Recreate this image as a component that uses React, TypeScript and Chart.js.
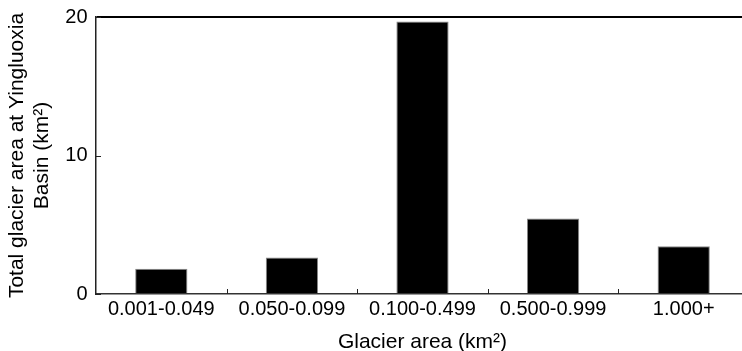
import React, { useEffect, useRef } from "react";
import { Chart, registerables } from "chart.js";

Chart.register(...registerables);

const categories = ["0.001-0.049", "0.050-0.099", "0.100-0.499", "0.500-0.999", "1.000+"];
const totalArea = [1.83, 2.63, 19.67, 5.45, 3.45];
const yTicks = [0, 10, 20];
const yTitle = ["Total glacier area at Yingluoxia", "Basin (km²)"];
const xTitle = "Glacier area (km²)";

const FONT = "'Liberation Sans', Arial, Helvetica, sans-serif";

const innerTicks = {
  id: "innerTicks",
  afterDraw(chart: any) {
    const { ctx, chartArea, scales } = chart;
    const x = scales.x;
    const y = scales.y;
    ctx.save();
    ctx.strokeStyle = "#222";
    ctx.lineWidth = 1;
    y.ticks.forEach((t: any) => {
      const py = Math.round(y.getPixelForValue(t.value)) + 0.5;
      ctx.beginPath();
      ctx.moveTo(chartArea.left, py);
      ctx.lineTo(chartArea.left + 5, py);
      ctx.stroke();
    });
    for (let i = 0; i < categories.length - 1; i++) {
      const px = Math.round((x.getPixelForValue(i) + x.getPixelForValue(i + 1)) / 2) + 0.5;
      ctx.beginPath();
      ctx.moveTo(px, chartArea.bottom);
      ctx.lineTo(px, chartArea.bottom - 5);
      ctx.stroke();
    }
    ctx.restore();
  },
};

export default function App() {
  const ref = useRef<HTMLCanvasElement>(null);
  useEffect(() => {
    if (!ref.current) return;
    const chart = new Chart(ref.current, {
      type: "bar",
      data: {
        labels: categories,
        datasets: [
          {
            data: totalArea,
            backgroundColor: "#000",
            borderColor: "#888",
            borderWidth: 1,
            barPercentage: 0.4,
            categoryPercentage: 1.0,
          },
        ],
      },
      options: {
        animation: false,
        responsive: false,
        maintainAspectRatio: false,
        layout: { padding: { left: 0, right: 0, top: 17, bottom: 0 } },
        plugins: { legend: { display: false }, tooltip: { enabled: false } },
        scales: {
          x: {
            grid: { display: false, drawTicks: false },
            border: { display: true, color: "#333", width: 1.5 },
            ticks: { color: "#000", font: { family: FONT, size: 20 }, padding: 3, maxRotation: 0, autoSkip: false },
            title: { display: true, text: xTitle, color: "#000", font: { family: FONT, size: 21 }, padding: { top: 0, bottom: 5.5 } },
            afterFit: (s: any) => { s.height = 360 - 294; },
          },
          y: {
            min: 0,
            max: 20,
            afterBuildTicks: (s: any) => { s.ticks = yTicks.map((v) => ({ value: v })); },
            grid: {
              drawTicks: false,
              color: (c: any) => (c.tick && c.tick.value === 20 ? "#000" : "rgba(0,0,0,0)"),
              lineWidth: 2,
            },
            border: { display: true, color: "#222", width: 1.5 },
            ticks: { color: "#000", font: { family: FONT, size: 20 }, padding: 8.5 },
            title: { display: true, text: yTitle, color: "#000", font: { family: FONT, size: 21 }, padding: { top: 4.5, bottom: 0 } },
            afterFit: (s: any) => { s.width = 96; s.paddingTop = 12; s.paddingBottom = 12; },
          },
        },
      },
      plugins: [innerTicks],
    });
    return () => chart.destroy();
  }, []);
  return (
    <div style={{ position: "fixed", left: 0, top: 0, width: 742, height: 351, overflow: "hidden", background: "#fff" }}>
      <canvas ref={ref} width={749} height={360} style={{ display: "block", width: 749, height: 360 }} />
    </div>
  );
}
